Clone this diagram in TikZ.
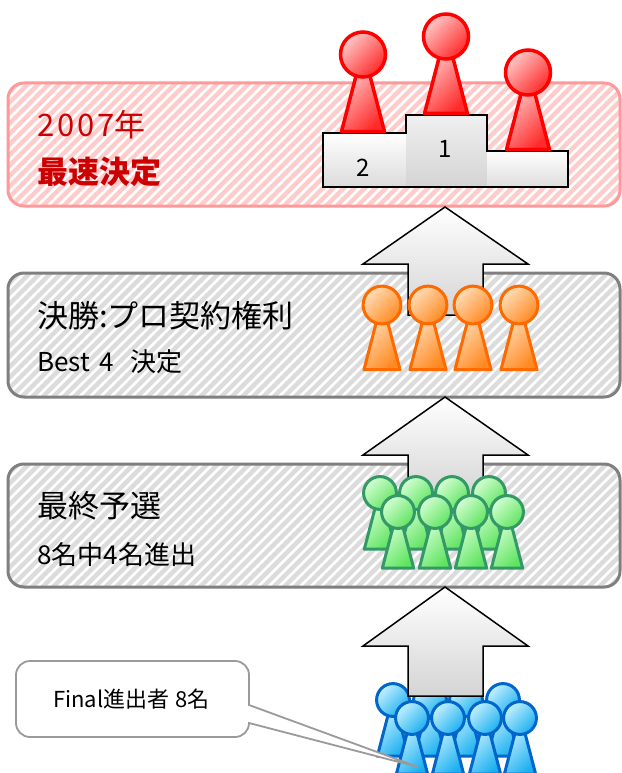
\documentclass[tikz,border=0pt]{standalone}
\usepackage{fontspec}
\setmainfont{Noto Sans CJK JP}
\definecolor{framepink}{HTML}{FF9999}
\definecolor{stripepink}{HTML}{FFCCCC}
\definecolor{framegray}{HTML}{7F7F7F}
\definecolor{stripegray}{HTML}{DCDCDC}
\definecolor{redtext}{HTML}{CC0000}
\definecolor{arrowgray}{HTML}{D4D4D4}
\definecolor{calloutgray}{HTML}{9A9A9A}
\definecolor{pawnred}{HTML}{FF0000}
\definecolor{pawnredL}{HTML}{FFC8C8}
\definecolor{pawnredD}{HTML}{FF2A2A}
\definecolor{pawnor}{HTML}{FF6A00}
\definecolor{pawnorL}{HTML}{FFDDB8}
\definecolor{pawnorD}{HTML}{FF8A22}
\definecolor{pawngr}{HTML}{339966}
\definecolor{pawngrL}{HTML}{D4FFD4}
\definecolor{pawngrD}{HTML}{5FE45F}
\definecolor{pawnbl}{HTML}{0066CC}
\definecolor{pawnblL}{HTML}{C4F0FF}
\definecolor{pawnblD}{HTML}{1AB0F0}
\newcommand\mystripes[5]{%
  \begin{scope}
    \clip[rounded corners=16pt] (#2,#3) rectangle (#4,#5);
    \pgfmathsetmacro\hh{#5-#3}
    \foreach \i in {-14,...,60} \draw[#1] ({#2+\i*10.5},#5+3) -- ++(\hh+6,-\hh-6);
  \end{scope}}
\newcommand\myuparrow[3]{%
  \draw[blockarrow] (445,#1) -- (528,#2) -- (483,#2) -- (483,#3) -- (408,#3) -- (408,#2) -- (363,#2) -- cycle;}
\begin{document}
\begin{tikzpicture}[x=1pt,y=-1pt,
  pinkstripe/.style={draw=stripepink, line width=4.5pt},
  graystripe/.style={draw=stripegray, line width=4.5pt},
  pinkframe/.style={draw=framepink, line width=3pt, rounded corners=16pt},
  grayframe/.style={draw=framegray, line width=3pt, rounded corners=16pt},
  titletxt/.style={anchor=west, inner sep=0pt, font=\fontsize{31}{36}\selectfont},
  subtxt/.style={anchor=west, inner sep=0pt, font=\fontsize{26}{30}\selectfont},
  blockarrow/.style={draw=black, line width=1.5pt, top color=white, bottom color=arrowgray, line join=miter},
  podiumline/.style={draw=black, line width=1.6pt, line join=miter},
  podnum/.style={inner sep=0pt, font=\fontsize{24}{28}\selectfont},
  callout/.style={draw=calloutgray, line width=1.8pt, fill=white, line join=miter},
  redpawn/.style={draw=pawnred, line width=3.5pt, top color=pawnredL, bottom color=pawnredD, shading angle=45},
  orpawn/.style={draw=pawnor, line width=3pt, top color=pawnorL, bottom color=pawnorD, shading angle=45},
  grpawn/.style={draw=pawngr, line width=3pt, top color=pawngrL, bottom color=pawngrD, shading angle=45},
  blpawn/.style={draw=pawnbl, line width=3pt, top color=pawnblL, bottom color=pawnblD, shading angle=45},
  pics/pawn/.style={code={
    \draw[#1, line join=round] (-4,10) -- (4,10) -- (21.5,77) -- (-21.5,77) -- cycle;
    \draw[#1] (0,0) circle[radius=22.5];
  }}
]
\fill[white] (0,0) rectangle (621,773);
\useasboundingbox (0,0) rectangle (621,773);

% ---- top: red box ----
\mystripes{pinkstripe}{8}{83}{620}{206}
\draw[pinkframe] (8,83) rectangle (620,206);
\node[titletxt, text=redtext] (t2007) at (37,125) {\addfontfeature{LetterSpace=9}2007\addfontfeature{LetterSpace=0}年};
\node[titletxt, text=redtext, font=\fontsize{31}{36}\selectfont\bfseries] (tsaisoku) at (37,172) {最速決定};

% podium
\fill[top color=white, bottom color=black!14] (323,133) rectangle (406,187);
\fill[top color=black!6, bottom color=black!17] (406,115) rectangle (487,187);
\fill[top color=white, bottom color=black!13] (487,151) rectangle (568,187);
\draw[podiumline] (323,187) -- (323,133) -- (406,133) -- (406,115) -- (487,115) -- (487,151) -- (568,151) -- (568,187) -- cycle;
\node[podnum] (p2) at (363,168) {2};
\node[podnum] (p1) at (445,149) {1};

\pic at (363,54.5) {pawn=redpawn};
\pic at (446,36.5) {pawn=redpawn};
\pic at (528,72.5) {pawn=redpawn};

% ---- box 1 ----
\mystripes{graystripe}{8}{273}{620}{397}
\draw[grayframe] (8,273) rectangle (620,397);
\node[titletxt] (t1a) at (37,316) {決勝:プロ契約権利};
\node[subtxt] (t1b) at (37,362) {Best\hspace{9pt}4\hspace{17pt}決定};
\myuparrow{207}{264}{315}
\foreach \x in {382,428,473,519} \pic[scale=0.84] at (\x,305) {pawn=orpawn};

% ---- box 2 ----
\mystripes{graystripe}{8}{464}{620}{587}
\draw[grayframe] (8,464) rectangle (620,587);
\node[titletxt] (t2a) at (37,506) {最終予選};
\node[subtxt] (t2b) at (37,555) {8名中4名進出};
\myuparrow{397}{455}{500}
\foreach \x in {380,416,452,489} \pic[scale=0.73] at (\x,493) {pawn=grpawn};
\foreach \x in {398,435,471,507} \pic[scale=0.73] at (\x,512) {pawn=grpawn};

% ---- bottom ----
\foreach \x in {393,430,466,503} \pic[scale=0.73] at (\x,700) {pawn=blpawn};
\myuparrow{587}{646}{696}
\foreach \x in {412,448,485,520} \pic[scale=0.73] at (\x,718) {pawn=blpawn};

\draw[callout] (249,705) -- (249,675) arc[start angle=0, end angle=-90, radius=14]
  -- (30,661) arc[start angle=-90, end angle=-180, radius=14]
  -- (16,723) arc[start angle=180, end angle=90, radius=14]
  -- (235,737) arc[start angle=90, end angle=0, radius=14]
  -- (418,767) -- cycle;
\node[inner sep=0pt, font=\fontsize{22}{26}\selectfont] (final) at (131.5,699) {Final進出者\hspace{6pt}8名};
\end{tikzpicture}
\end{document}
